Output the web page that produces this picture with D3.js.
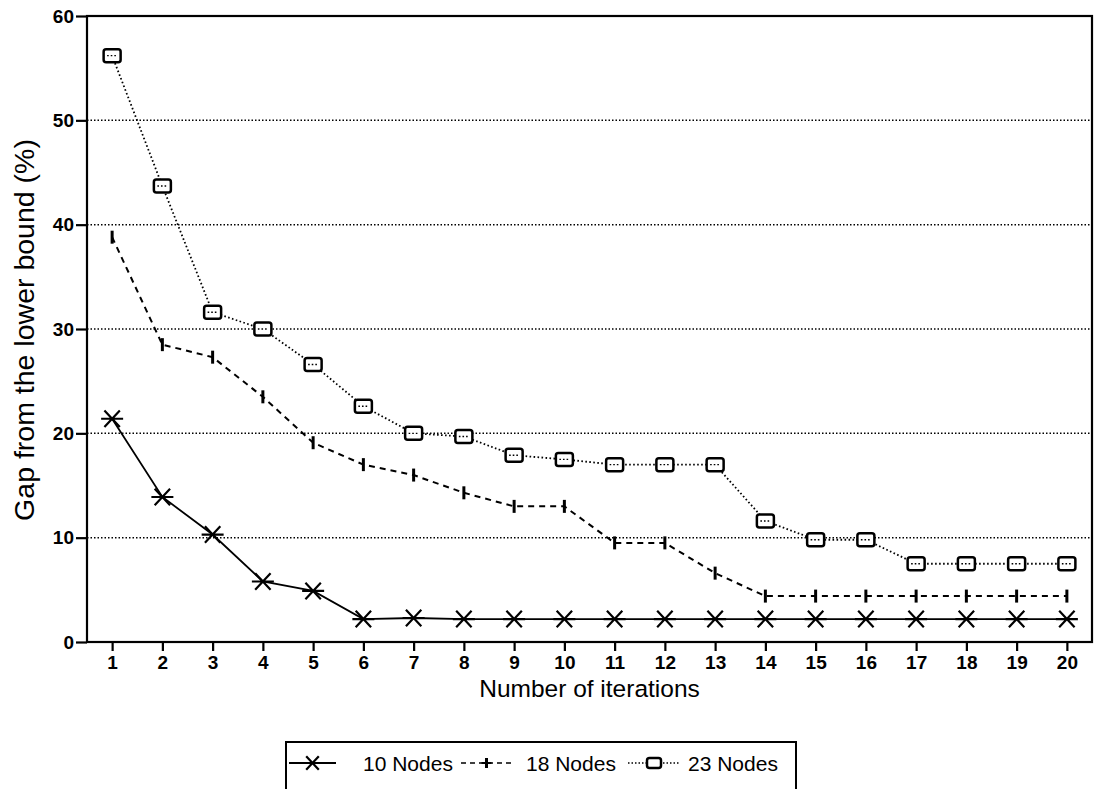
<!DOCTYPE html>
<html>
<head>
<meta charset="utf-8">
<script src="https://cdn.jsdelivr.net/npm/d3@7"></script>
<style>
  body { margin: 0; background: #fff; }
  text { font-family: "Liberation Sans", Arial, sans-serif; fill: #000; }
</style>
</head>
<body>
<div id="chart"></div>
<script>
// iterations 1..20
var iterations = d3.range(1, 21);
// gap from the lower bound (%)
var nodes10 = [21.4, 13.9, 10.3, 5.8, 4.9, 2.2, 2.3, 2.2, 2.2, 2.2, 2.2, 2.2, 2.2, 2.2, 2.2, 2.2, 2.2, 2.2, 2.2, 2.2];
var nodes18 = [38.8, 28.5, 27.3, 23.5, 19.1, 17.0, 16.0, 14.3, 13.0, 13.0, 9.5, 9.5, 6.6, 4.4, 4.4, 4.4, 4.4, 4.4, 4.4, 4.4];
var nodes23 = [56.2, 43.7, 31.6, 30.0, 26.6, 22.6, 20.0, 19.7, 17.9, 17.5, 17.0, 17.0, 17.0, 11.6, 9.8, 9.8, 7.5, 7.5, 7.5, 7.5];
var seriesNames = ["10 Nodes", "18 Nodes", "23 Nodes"];
var yTicks = [0, 10, 20, 30, 40, 50, 60];
var gridTicks = [10, 20, 30, 40, 50];

const width = 1100, height = 789;
const plot = {left: 87, right: 1092, top: 16, bottom: 642};

const svg = d3.select("#chart").append("svg")
    .attr("width", width)
    .attr("height", height);

const xScale = d3.scaleLinear().domain([0.5, 20.5]).range([plot.left, plot.right]);
const yScale = d3.scaleLinear().domain([0, 60]).range([plot.bottom, plot.top]);

// dotted grid lines
svg.append("g").selectAll("line").data(gridTicks).enter()
    .append("line")
    .attr("x1", plot.left).attr("x2", plot.right)
    .attr("y1", d => yScale(d)).attr("y2", d => yScale(d))
    .attr("stroke", "#000").attr("stroke-width", 1.5)
    .attr("stroke-dasharray", "1.5,2");

// frame
svg.append("rect")
    .attr("x", plot.left).attr("y", plot.top)
    .attr("width", plot.right - plot.left).attr("height", plot.bottom - plot.top)
    .attr("fill", "none").attr("stroke", "#000").attr("stroke-width", 2.2);

// axes
const yAxis = svg.append("g")
    .attr("transform", `translate(${plot.left},0)`)
    .call(d3.axisLeft(yScale).tickValues(yTicks).tickSize(11).tickPadding(2));
const xAxis = svg.append("g")
    .attr("transform", `translate(0,${plot.bottom})`)
    .call(d3.axisBottom(xScale).tickValues(iterations).tickSize(9).tickPadding(5));
[xAxis, yAxis].forEach(function (a) {
    a.select(".domain").remove();
    a.selectAll(".tick line").attr("stroke", "#000").attr("stroke-width", 2.2);
    a.selectAll(".tick text")
        .style("font-family", "'Liberation Sans', Arial, sans-serif")
        .style("font-size", "19px")
        .style("font-weight", "bold");
});

// axis titles
svg.append("text")
    .attr("x", (plot.left + plot.right) / 2).attr("y", 697)
    .attr("text-anchor", "middle")
    .style("font-size", "24.5px")
    .text("Number of iterations");
svg.append("text")
    .attr("transform", "translate(34,330) rotate(-90)")
    .attr("text-anchor", "middle")
    .style("font-size", "28.5px")
    .text("Gap from the lower bound (%)");

const line = d3.line()
    .x((d, i) => xScale(iterations[i]))
    .y(d => yScale(d));

// marker shapes
function asterisk(g, cx, cy, r) {
    g.append("path")
        .attr("d", `M${cx - r},${cy}L${cx + r},${cy}` +
            `M${cx - r * 0.7},${cy - r * 0.75}L${cx + r * 0.7},${cy + r * 0.75}` +
            `M${cx - r * 0.7},${cy + r * 0.75}L${cx + r * 0.7},${cy - r * 0.75}`)
        .attr("stroke", "#000").attr("stroke-width", 2.2).attr("fill", "none");
}
function tickMark(g, cx, cy, h) {
    g.append("line")
        .attr("x1", cx).attr("x2", cx).attr("y1", cy - h / 2).attr("y2", cy + h / 2)
        .attr("stroke", "#000").attr("stroke-width", 3);
}
function box(g, cx, cy, w, h) {
    g.append("rect")
        .attr("x", cx - w / 2).attr("y", cy - h / 2)
        .attr("width", w).attr("height", h).attr("rx", 2.5)
        .attr("fill", "#fff").attr("stroke", "#000").attr("stroke-width", 2.5);
}

// 23 Nodes (dotted + squares)
const s23 = svg.append("g");
s23.append("path").datum(nodes23).attr("d", line)
    .attr("fill", "none").attr("stroke", "#000").attr("stroke-width", 1.8)
    .attr("stroke-dasharray", "1.6,2.4");
nodes23.forEach((v, i) => box(s23, xScale(iterations[i]), yScale(v), 17, 13));
nodes23.forEach((v, i) => {
    s23.append("line")
        .attr("x1", xScale(iterations[i]) - 5).attr("x2", xScale(iterations[i]) + 5)
        .attr("y1", yScale(v)).attr("y2", yScale(v))
        .attr("stroke", "#000").attr("stroke-width", 1.4).attr("stroke-dasharray", "1.6,2");
});

// 18 Nodes (dashed + ticks)
const s18 = svg.append("g");
s18.append("path").datum(nodes18).attr("d", line)
    .attr("fill", "none").attr("stroke", "#000").attr("stroke-width", 2)
    .attr("stroke-dasharray", "6,5");
nodes18.forEach((v, i) => tickMark(s18, xScale(iterations[i]), yScale(v), 13));

// 10 Nodes (solid + asterisks)
const s10 = svg.append("g");
s10.append("path").datum(nodes10).attr("d", line)
    .attr("fill", "none").attr("stroke", "#000").attr("stroke-width", 1.8);
nodes10.forEach((v, i) => asterisk(s10, xScale(iterations[i]), yScale(v), 11));

// legend
const legend = svg.append("g");
legend.append("rect")
    .attr("x", 286).attr("y", 742).attr("width", 510).attr("height", 70)
    .attr("fill", "none").attr("stroke", "#000").attr("stroke-width", 2);
const ly = 763;
const legendItems = [
    {x0: 289, x1: 336, tx: 363, dash: null},
    {x0: 461, x1: 512, tx: 526, dash: "5,4"},
    {x0: 628, x1: 680, tx: 688, dash: "1.5,2"}
];
legendItems.forEach(function (d, i) {
    legend.append("line")
        .attr("x1", d.x0).attr("x2", d.x1).attr("y1", ly).attr("y2", ly)
        .attr("stroke", "#000").attr("stroke-width", i === 0 ? 2 : 1.6)
        .attr("stroke-dasharray", d.dash);
    const cx = (d.x0 + d.x1) / 2;
    if (i === 0) asterisk(legend, cx, ly, 9);
    if (i === 1) {
        tickMark(legend, cx, ly, 10);
        legend.append("line").attr("x1", cx - 5).attr("x2", cx + 5)
            .attr("y1", ly).attr("y2", ly).attr("stroke", "#000").attr("stroke-width", 2);
    }
    if (i === 2) box(legend, cx, ly, 14, 10);
    legend.append("text")
        .attr("x", d.tx).attr("y", ly + 8)
        .style("font-size", "21px")
        .text(seriesNames[i]);
});
</script>
</body>
</html>
